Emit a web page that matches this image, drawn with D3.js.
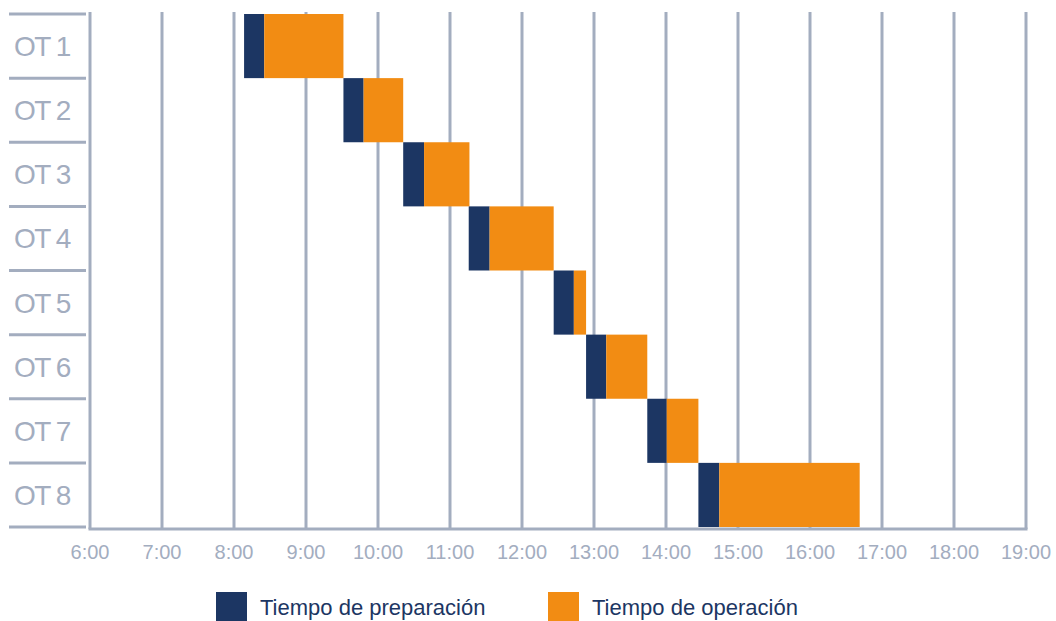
<!DOCTYPE html>
<html>
<head>
<meta charset="utf-8">
<script src="https://cdn.jsdelivr.net/npm/d3@7"></script>
<style>
  body { margin: 0; background: #fff; }
  svg { display: block; font-family: "Liberation Sans", Arial, sans-serif; }
</style>
</head>
<body>
<div id="chart"></div>
<script>
// Orders (rows), start hour, preparation and operation durations (hours)
const orders = ["OT 1", "OT 2", "OT 3", "OT 4", "OT 5", "OT 6", "OT 7", "OT 8"];
const startHours = [8.14, 9.52, 10.35, 11.26, 12.44, 12.89, 13.74, 14.45];
const prepHours = [0.28, 0.28, 0.29, 0.29, 0.28, 0.28, 0.27, 0.29];
const opHours = [1.10, 0.55, 0.63, 0.89, 0.17, 0.57, 0.44, 1.95];
const tickHours = d3.range(6, 20);
const legendLabels = ["Tiempo de preparación", "Tiempo de operación"];

const navy = "#1c3663";
const orange = "#f28c13";
const grey = "#a3adbf";

const data = orders.map((o, i) => ({
  order: o,
  start: startHours[i],
  prep: prepHours[i],
  op: opHours[i]
}));

const width = 1056, height = 621;

const svg = d3.select("#chart")
  .append("svg")
  .attr("width", width)
  .attr("height", height);

const xScale = d3.scaleLinear().domain([6, 19]).range([90, 1026]);
const yScale = d3.scaleBand().domain(orders).range([14, 527]).padding(0);
const axisY = 529;

// vertical grid lines (one per hour)
svg.append("g")
  .selectAll("line")
  .data(tickHours)
  .join("line")
  .attr("x1", (d) => xScale(d))
  .attr("x2", (d) => xScale(d))
  .attr("y1", 12)
  .attr("y2", axisY)
  .attr("stroke", grey)
  .attr("stroke-width", 3);

// bottom axis line
svg.append("line")
  .attr("x1", xScale(6) - 1.5)
  .attr("x2", xScale(19) + 1.5)
  .attr("y1", axisY)
  .attr("y2", axisY)
  .attr("stroke", grey)
  .attr("stroke-width", 3);

// row separators on the left
const bounds = orders.map((o) => yScale(o)).concat([yScale.range()[1]]);
svg.append("g")
  .selectAll("line")
  .data(bounds)
  .join("line")
  .attr("x1", 9)
  .attr("x2", 86)
  .attr("y1", (d) => d)
  .attr("y2", (d) => d)
  .attr("stroke", grey)
  .attr("stroke-width", 3);

// row labels
svg.append("g")
  .selectAll("text")
  .data(orders)
  .join("text")
  .attr("x", 14)
  .attr("y", (d) => yScale(d) + yScale.bandwidth() / 2 + 10)
  .attr("fill", grey)
  .style("font-size", "28px")
  .style("letter-spacing", "-1.5px")
  .text((d) => d);

// tick labels
svg.append("g")
  .selectAll("text")
  .data(tickHours)
  .join("text")
  .attr("x", (d) => xScale(d))
  .attr("y", 559)
  .attr("text-anchor", "middle")
  .attr("fill", grey)
  .style("font-size", "20px")
  .text((d) => `${d}:00`);

// bars
const rows = svg.append("g")
  .selectAll("g")
  .data(data)
  .join("g")
  .attr("transform", (d) => `translate(0, ${yScale(d.order)})`);

rows.append("rect")
  .attr("x", (d) => xScale(d.start))
  .attr("y", 0)
  .attr("width", (d) => xScale(d.start + d.prep) - xScale(d.start))
  .attr("height", yScale.bandwidth())
  .attr("fill", navy);

rows.append("rect")
  .attr("x", (d) => xScale(d.start + d.prep))
  .attr("y", 0)
  .attr("width", (d) => xScale(d.start + d.prep + d.op) - xScale(d.start + d.prep))
  .attr("height", yScale.bandwidth())
  .attr("fill", orange);

// legend
const legendX = [216, 548];
const legend = svg.append("g")
  .selectAll("g")
  .data(legendLabels)
  .join("g")
  .attr("transform", (d, i) => `translate(${legendX[i]}, 592)`);

legend.append("rect")
  .attr("width", 31)
  .attr("height", 30)
  .attr("fill", (d, i) => (i === 0 ? navy : orange));

legend.append("text")
  .attr("x", 44)
  .attr("y", 23)
  .attr("fill", navy)
  .style("font-size", "22px")
  .text((d) => d);
</script>
</body>
</html>
